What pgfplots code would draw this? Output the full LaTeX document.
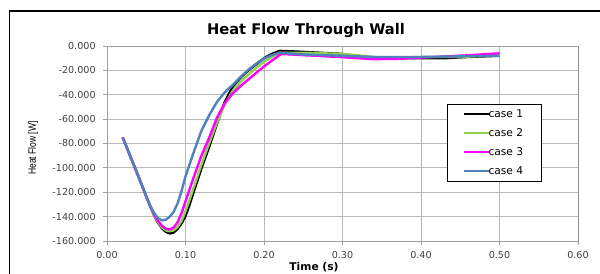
\documentclass[border=0pt]{standalone}
\usepackage{fontspec}
\setmainfont{DejaVu Sans}
\newfontfamily\libsans{Liberation Sans}
\usepackage{pgfplots}
\pgfplotsset{compat=1.18}
\definecolor{cblack}{RGB}{0,0,0}
\definecolor{cgreen}{RGB}{146,208,80}
\definecolor{cmag}{RGB}{255,0,255}
\definecolor{cblue}{RGB}{79,129,189}
\begin{document}
\begin{tikzpicture}[x=1pt,y=1pt]
\useasboundingbox (0,0) rectangle (450,204.75);
\draw[black, line width=0.8pt] (7,-20) -- (7,196.5) -- (470,196.5);
\node[font=\bfseries\fontsize{11}{13}\selectfont] at (229.5,181.5) {Heat Flow Through Wall};
\node[font=\bfseries\fontsize{8}{9}\selectfont] at (235.5,4.5) {Time (s)};
\node[rotate=90, font=\libsans\fontsize{8}{9}\selectfont] at (24.75,93.75) {\scalebox{0.8}[1]{Heat Flow [W]}};
\begin{axis}[
  at={(80.25pt,24pt)}, anchor=south west,
  width=353.25pt, height=146.25pt, scale only axis,
  xmin=0, xmax=0.6, ymin=-160, ymax=0,
  xtick={0,0.1,0.2,0.3,0.4,0.5,0.6},
  xticklabels={0.00,0.10,0.20,0.30,0.40,0.50,0.60},
  ytick={-160,-140,-120,-100,-80,-60,-40,-20,0},
  yticklabels={-160.000,-140.000,-120.000,-100.000,-80.000,-60.000,-40.000,-20.000,0.000},
  ticklabel style={font=\fontsize{7.2}{8}\selectfont, text=black!75},
  xticklabel style={yshift=-1pt},
  yticklabel style={xshift=-2pt},
  grid=major,
  major grid style={gray!55, line width=0.6pt},
  axis line style={gray!75, line width=0.6pt},
  tick style={gray!75, line width=0.6pt},
  tick align=outside, tick pos=left, major tick length=3pt,
  legend style={at={(0.722,0.703)}, anchor=north west, draw=black, line width=0.6pt,
    fill=white, font=\fontsize{8}{9}\selectfont, row sep=2.9pt,
    inner xsep=11.3pt, inner ysep=1.8pt,
    /tikz/every odd column/.append style={column sep=-4pt}},
  legend cell align=left,
  legend image code/.code={\draw[#1, line width=1.5pt] (0pt,0pt) -- (20pt,0pt);},
  every axis plot/.append style={line width=1.8pt, line join=round},
]
\addplot[cblack] coordinates {
(0.02,-75) (0.03,-91) (0.04,-107) (0.05,-123.5) (0.055,-131.5) (0.06,-139) (0.065,-145)
(0.07,-149.5) (0.075,-152.5) (0.08,-153.8) (0.085,-153) (0.09,-150) (0.095,-145.5)
(0.10,-139.5) (0.105,-130.5) (0.11,-120.5) (0.12,-101) (0.13,-83) (0.14,-64) (0.15,-46)
(0.16,-33.5) (0.17,-26) (0.18,-20) (0.19,-15) (0.20,-10) (0.21,-6.5) (0.22,-4)
(0.24,-4.5) (0.27,-5.5) (0.30,-6.5) (0.32,-8.5) (0.34,-10) (0.37,-10) (0.40,-10)
(0.43,-10) (0.46,-9) (0.50,-8)
};
\addlegendentry{case 1}
\addplot[cgreen] coordinates {
(0.02,-75) (0.03,-91) (0.04,-107) (0.05,-123.5) (0.055,-131.5) (0.06,-138.8) (0.065,-144.5)
(0.07,-148.8) (0.075,-151.3) (0.08,-152) (0.085,-151.2) (0.09,-148.5) (0.095,-143.5)
(0.10,-135.6) (0.105,-126.5) (0.11,-117) (0.12,-98) (0.13,-80) (0.14,-63) (0.15,-48)
(0.16,-37) (0.17,-29.5) (0.18,-23.5) (0.19,-18) (0.20,-13) (0.21,-9) (0.22,-5.5)
(0.25,-5.5) (0.30,-6.5) (0.34,-9) (0.37,-9.5) (0.40,-9) (0.45,-9) (0.50,-7.5)
};
\addlegendentry{case 2}
\addplot[cmag] coordinates {
(0.02,-75) (0.03,-91) (0.04,-107) (0.05,-123.5) (0.055,-131) (0.06,-138) (0.065,-143.5)
(0.07,-147.5) (0.075,-150) (0.08,-150.6) (0.085,-149) (0.09,-144.5) (0.095,-137)
(0.10,-127.4) (0.105,-118) (0.11,-108.5) (0.12,-90.5) (0.13,-75.5) (0.14,-59) (0.15,-47)
(0.16,-39) (0.17,-33) (0.18,-27.5) (0.19,-22) (0.20,-16.8) (0.21,-12) (0.222,-6.5)
(0.25,-7.5) (0.30,-9.2) (0.34,-10.8) (0.37,-10.5) (0.40,-9.5) (0.45,-8) (0.50,-6)
};
\addlegendentry{case 3}
\addplot[cblue] coordinates {
(0.02,-75) (0.03,-91) (0.04,-107) (0.05,-123.5) (0.055,-131) (0.06,-137) (0.065,-141.3)
(0.07,-143) (0.075,-142.5) (0.08,-140) (0.085,-136) (0.09,-129) (0.095,-119)
(0.10,-107) (0.105,-97.5) (0.11,-88) (0.115,-79) (0.12,-70) (0.13,-57) (0.14,-46)
(0.15,-38) (0.16,-32) (0.17,-25.5) (0.18,-19.5) (0.19,-14.5) (0.20,-10.3) (0.21,-7.5)
(0.22,-5.5) (0.25,-7) (0.30,-8) (0.34,-9) (0.40,-9) (0.45,-8.5) (0.50,-8)
};
\addlegendentry{case 4}
\draw[black!85, line width=0.7pt] (rel axis cs:1,0) -- (rel axis cs:1,1);
\end{axis}
\end{tikzpicture}
\end{document}
